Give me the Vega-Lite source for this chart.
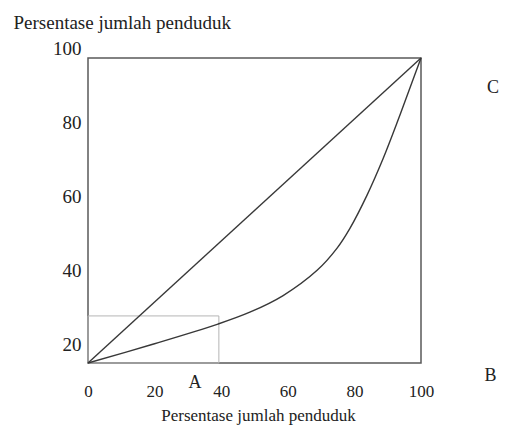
{
  "$schema": "https://vega.github.io/schema/vega-lite/v6.json",
  "width": 333,
  "height": 315,
  "autosize": {"type": "none"},
  "padding": {"left": 88, "top": 48, "right": 84, "bottom": 67},
  "background": "white",
  "config": {"view": {"stroke": null}, "font": "Liberation Serif"},
  "datasets": {
    "frame": [{"x0": 0, "x1": 100, "y0": 15, "y1": 97.3}],
    "small": [{"x0": 0, "x1": 39.3, "y0": 15, "y1": 27.7}],
    "lines": [
      {"series": "diagonal", "x": 0, "y": 15},
      {"series": "diagonal", "x": 100, "y": 97.3},
      {"series": "lorenz", "x": 0, "y": 15},
      {"series": "lorenz", "x": 19.2, "y": 20.0},
      {"series": "lorenz", "x": 39.0, "y": 25.5},
      {"series": "lorenz", "x": 48.6, "y": 28.7},
      {"series": "lorenz", "x": 58.6, "y": 33.2},
      {"series": "lorenz", "x": 68.8, "y": 40.0},
      {"series": "lorenz", "x": 74.8, "y": 46.0},
      {"series": "lorenz", "x": 78.7, "y": 51.4},
      {"series": "lorenz", "x": 83.8, "y": 60.3},
      {"series": "lorenz", "x": 88.6, "y": 70.1},
      {"series": "lorenz", "x": 92.8, "y": 79.8},
      {"series": "lorenz", "x": 96.7, "y": 89.3},
      {"series": "lorenz", "x": 100, "y": 97.3}
    ],
    "labels": [
      {"label": "A", "x": 32.1, "y": 9.6},
      {"label": "B", "x": 120.9, "y": 11.5},
      {"label": "C", "x": 121.6, "y": 89.2}
    ]
  },
  "layer": [
    {
      "data": {"name": "frame"},
      "mark": {"type": "rect", "fill": null, "stroke": "#5a5a5a", "strokeWidth": 1.5},
      "encoding": {
        "x": {
          "field": "x0", "type": "quantitative",
          "scale": {"domain": [0, 100], "nice": false, "zero": false},
          "axis": {
            "values": [0, 20, 40, 60, 80, 100],
            "domain": false, "ticks": false, "grid": false, "labelFlush": false,
            "labelPadding": 20, "labelFontSize": 17, "labelColor": "#222",
            "title": "Persentase jumlah penduduk",
            "titleFontSize": 17, "titleFontWeight": "normal", "titleColor": "#222",
            "titleX": 170, "titleY": 57, "titleBaseline": "alphabetic"
          }
        },
        "x2": {"field": "x1"},
        "y": {
          "field": "y0", "type": "quantitative",
          "scale": {"domain": [15, 100], "nice": false, "zero": false},
          "axis": {
            "values": [20, 40, 60, 80, 100],
            "domain": false, "ticks": false, "grid": false, "labelFlush": false,
            "labelPadding": 7, "labelFontSize": 19, "labelColor": "#222",
            "title": "Persentase jumlah penduduk",
            "titleAngle": 0, "titleAlign": "left", "titleBaseline": "alphabetic",
            "titleX": -75, "titleY": -20,
            "titleFontSize": 19, "titleFontWeight": "normal", "titleColor": "#222"
          }
        },
        "y2": {"field": "y1"}
      }
    },
    {
      "data": {"name": "small"},
      "mark": {"type": "rect", "fill": null, "stroke": "#b5b5b5", "strokeWidth": 1},
      "encoding": {
        "x": {"field": "x0", "type": "quantitative"},
        "x2": {"field": "x1"},
        "y": {"field": "y0", "type": "quantitative"},
        "y2": {"field": "y1"}
      }
    },
    {
      "data": {"name": "lines"},
      "mark": {"type": "line", "interpolate": "catmull-rom", "color": "#383838", "strokeWidth": 1.4},
      "encoding": {
        "x": {"field": "x", "type": "quantitative"},
        "y": {"field": "y", "type": "quantitative"},
        "detail": {"field": "series"},
        "order": {"field": "x"}
      }
    },
    {
      "data": {"name": "labels"},
      "mark": {"type": "text", "fontSize": 18, "color": "#222", "align": "center", "baseline": "middle"},
      "encoding": {
        "x": {"field": "x", "type": "quantitative"},
        "y": {"field": "y", "type": "quantitative"},
        "text": {"field": "label"}
      }
    }
  ]
}
